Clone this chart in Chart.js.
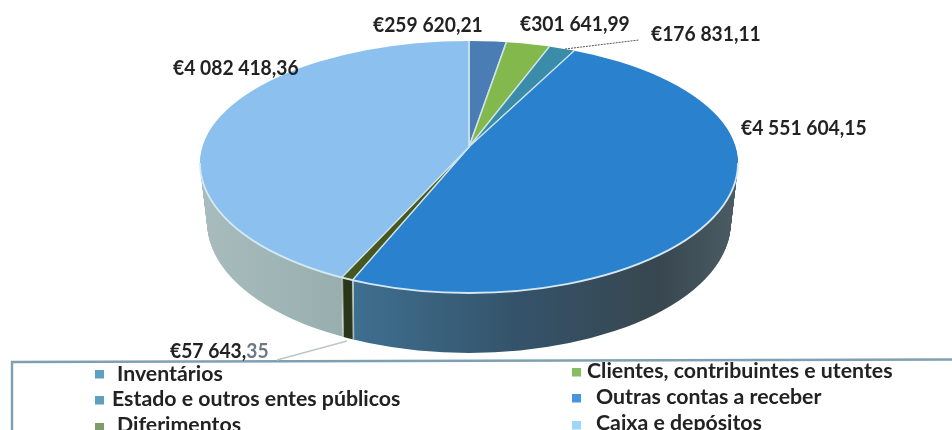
<!DOCTYPE html>
<html><head><meta charset="utf-8">
<style>html,body{margin:0;padding:0;background:#fff;overflow:hidden}canvas{display:block}</style>
<script src="https://cdn.jsdelivr.net/npm/chart.js@4"></script></head>
<body><div style="width:952px;height:430px"><canvas id="c" width="952" height="430"></canvas></div>
<script>
const categories = ["Inventários","Clientes, contribuintes e utentes","Estado e outros entes públicos","Outras contas a receber","Diferimentos","Caixa e depósitos"];
const values = [259620.21,301641.99,176831.11,4551604.15,57643.35,4082418.36];
const faceColors = ["#4a7db3","#82b84c","#3a8ca8","#2a82cf","#46581f","#8cc0ef"];
const legendColors = ["#5f9fc0","#86bc62","#5f9fc0","#4a94de","#7d9e6a","#9fd6f8"];
const labelText = v => "€" + v.toFixed(2).replace(".", ",").replace(/\B(?=(\d{3})+(?!\d))/g, " ");

const CX=469, CY=147, EY=163, RX=269, RYT=122, RYB=130, DEPTH=60, KTOP=.49, KBOT=.46;
const labelPos = [[373,32],[520,31],[651,41],[741,135],[170,358],[173,75]];
const legendPos = [[95,370,117,381],[572,368,587,378],[95,396,112,406],[572,394,596,404],[95,423,117,432],[572,421,596,430]];

function ellipse(ctx,d){
  const rx=RX-d*.12;
  ctx.beginPath();
  ctx.ellipse(CX,EY+d,rx,RYT,0,Math.PI,Math.PI*2);
  ctx.ellipse(CX,EY+d,rx,RYB,0,0,Math.PI);
  ctx.closePath();
}
function wallFill(ctx,i){
  const g=ctx.createLinearGradient(200,0,738,0);
  if(i===5){g.addColorStop(0,"#a8bcbd");g.addColorStop(.27,"#98aeae");g.addColorStop(1,"#98aeae");}
  else if(i===4){return "#2c361c";}
  else {g.addColorStop(0,"#3f7191");g.addColorStop(.27,"#3f7191");g.addColorStop(.6,"#345269");g.addColorStop(.85,"#38474f");g.addColorStop(1,"#4b5c64");}
  return g;
}
function paint(ctx,el,fill,stroke,bw){
  const saved=el.options;
  el.options={backgroundColor:fill,borderColor:stroke,borderWidth:bw,borderAlign:"center",spacing:0,offset:0,circular:true,borderRadius:0,borderJoinStyle:"round",borderDash:[],borderDashOffset:0};
  el.draw(ctx);
  el.options=saved;
}
function halves(ctx,fn){
  [[0,CY,KTOP],[CY,430-CY,KBOT]].forEach(([y,h,k])=>{
    ctx.save();ctx.beginPath();ctx.rect(0,y,952,h);ctx.clip();
    ctx.translate(0,CY);ctx.scale(1,k);ctx.translate(0,-CY);
    fn();ctx.restore();
  });
}
const order=[0,1,2,3,5,4];
const pie3d={id:"pie3d",
  beforeDatasetsDraw(chart){
    const ctx=chart.ctx, arcs=chart.getDatasetMeta(0).data;
    for(let d=DEPTH;d>=1;d--){
      ctx.save();ellipse(ctx,d);ctx.clip();ctx.translate(0,d);
      halves(ctx,()=>order.forEach(i=>paint(ctx,arcs[i],wallFill(ctx,i),i===4?"#dbe4dc":"transparent",i===4?1.6:0)));
      ctx.restore();
    }
    ctx.save();ellipse(ctx,0);ctx.clip();
    halves(ctx,()=>order.forEach(i=>paint(ctx,arcs[i],faceColors[i],"#cfe3ea",1.6)));
    ctx.restore();
    ctx.save();ctx.strokeStyle="#d3e8f4";ctx.lineWidth=1.8;
    ctx.beginPath();ctx.ellipse(CX,EY,RX,RYB,0,0,Math.PI);ctx.stroke();ctx.restore();
    return false;
  },
  afterDraw(chart){
    const ctx=chart.ctx;
    ctx.save();
    ctx.strokeStyle="#7f9fb4";ctx.lineWidth=2.4;
    ctx.beginPath();ctx.moveTo(12,430);ctx.lineTo(12,362);ctx.lineTo(952,359.5);ctx.stroke();
    ctx.strokeStyle="#555";ctx.lineWidth=1;ctx.setLineDash([2,1]);
    ctx.beginPath();ctx.moveTo(565,49);ctx.lineTo(639,40);ctx.stroke();ctx.setLineDash([]);
    ctx.strokeStyle="#bcc8c2";ctx.lineWidth=1.5;
    ctx.beginPath();ctx.moveTo(277,360);ctx.lineTo(347,341);ctx.stroke();
    ctx.textBaseline="alphabetic";
    ctx.font="bold 20.5px Lato";
    values.forEach((v,i)=>{
      const t=labelText(v), w=ctx.measureText(t).width;
      if(i===4){
        const g=ctx.createLinearGradient(0,0,952,0);
        g.addColorStop(0,"#222");g.addColorStop(261/952,"#222");g.addColorStop(262/952,"#6f7882");g.addColorStop(1,"#6f7882");
        ctx.fillStyle=g;
      } else ctx.fillStyle="#222";
      ctx.fillText(t,labelPos[i][0],labelPos[i][1],w*.94);
    });
    ctx.font="bold 21.3px Lato";
    categories.forEach((n,i)=>{
      const [mx,my,tx,y]=legendPos[i];
      ctx.fillStyle=legendColors[i];ctx.fillRect(mx,my,9,8.5);
      ctx.fillStyle="#222";ctx.fillText(n,tx,y);
    });
    ctx.restore();
  }
};
new Chart(document.getElementById("c"),{
  type:"pie",
  data:{labels:categories,datasets:[{data:values,backgroundColor:faceColors,radius:430}]},
  options:{responsive:false,animation:false,
    layout:{padding:{left:0,right:14,top:0,bottom:136}},
    plugins:{legend:{display:false},tooltip:{enabled:false}}},
  plugins:[pie3d]
});
</script></body></html>
